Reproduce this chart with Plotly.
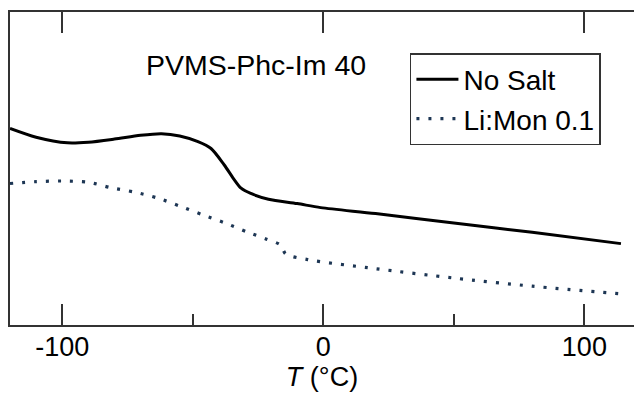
import plotly.graph_objects as go

# Temperature (°C) and signal (arbitrary units)
t_nosalt = [-120, -110, -98, -90, -80, -70, -62, -55, -48, -43, -38, -34, -31.5, -28, -21, -10, -1, 20, 50, 80, 114]
y_nosalt = [6.28, 6.00, 5.82, 5.84, 5.94, 6.06, 6.11, 6.04, 5.86, 5.64, 5.12, 4.63, 4.37, 4.21, 4.02, 3.88, 3.75, 3.56, 3.26, 2.96, 2.60]

t_limon = [-120, -110, -100, -90, -81.5, -72, -63.6, -55, -45.8, -37, -29.1, -22, -16.3, -14.4, -6, 20, 50, 80, 116]
y_limon = [4.52, 4.58, 4.60, 4.56, 4.39, 4.24, 4.06, 3.80, 3.51, 3.24, 2.97, 2.75, 2.55, 2.27, 2.09, 1.80, 1.50, 1.24, 0.98]

x_range = [-120, 119]
x_ticks = [-100, 0, 100]
x_ticklabels = ["-100", "0", "100"]
x_minor_ticks = [-50, 50]

FONT = "Liberation Sans, Arial, Helvetica, sans-serif"
AX = "#333333"

fig = go.Figure()
fig.add_trace(go.Scatter(x=t_nosalt, y=y_nosalt, mode="lines", name="No Salt",
                         line=dict(color="black", width=3, shape="spline", smoothing=0.8)))
fig.add_trace(go.Scatter(x=t_limon, y=y_limon, mode="lines", name="Li:Mon 0.1", xaxis="x2",
                         line=dict(color="#1d3654", width=3.2, dash="3px,9px", shape="spline", smoothing=0.8)))

fig.update_layout(
    template="none",
    width=634, height=394,
    margin=dict(l=10, r=0, t=12, b=69),
    plot_bgcolor="white", paper_bgcolor="white",
    font=dict(family=FONT, size=27, color="black"),
    showlegend=True,
    legend=dict(x=0.947, y=0.869, xanchor="right", yanchor="top",
                bordercolor=AX, borderwidth=1.5, bgcolor="white",
                font=dict(size=28), itemwidth=42, tracegroupgap=0),
    xaxis=dict(range=x_range, showline=True, linecolor=AX, linewidth=2,
               mirror="ticks", ticks="inside", ticklen=21, tickwidth=2, tickcolor=AX,
               tickmode="array", tickvals=x_ticks, ticktext=x_ticklabels,
               showgrid=False, zeroline=False, ticklabelstandoff=-3,
               title=dict(text="<i>T</i> (°C)", standoff=4, font=dict(size=27)),
               tickfont=dict(size=27)),
    xaxis2=dict(range=x_range, overlaying="x", side="bottom", anchor="y",
                showline=True, linecolor=AX, linewidth=2, mirror=True,
                ticks="inside", ticklen=11, tickwidth=2, tickcolor=AX,
                tickmode="array", tickvals=x_minor_ticks, ticktext=["", ""],
                showticklabels=True, showgrid=False, zeroline=False),
    yaxis=dict(range=[0, 10], showline=True, linecolor=AX, linewidth=2, mirror=False,
               showticklabels=False, ticks="", showgrid=False, zeroline=False),
)
fig.add_annotation(x=(368 - 10) / 624, y=(325 - 65) / 313, xref="x domain", yref="y domain",
                   showarrow=False, xanchor="right", yanchor="middle",
                   text="PVMS-Phc-Im 40", font=dict(size=28.5))

fig.write_html("out.html")
